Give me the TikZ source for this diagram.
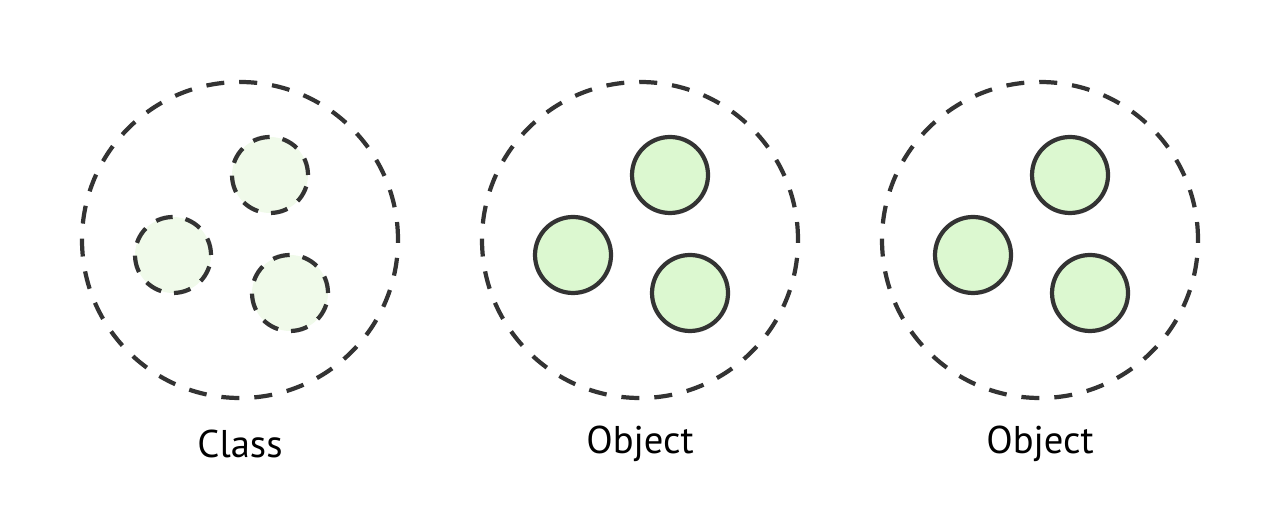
\documentclass[tikz,border=0pt]{standalone}
\usepackage{fontspec}
\setmainfont{PT Sans}
\definecolor{edgegray}{HTML}{333333}
\definecolor{fieldgreen}{HTML}{DCF8D0}
\definecolor{palegreen}{HTML}{F0FAEA}
\begin{document}
\begin{tikzpicture}[line width=1.2pt,
                    draw=edgegray,
                    font=\fontsize{11pt}{13pt}\selectfont]
    \tikzstyle{container}=[circle,draw=edgegray,dash pattern=on 0.18cm off 0.15cm,minimum size=3.16cm,inner sep=0pt]
    \tikzstyle{member}=[circle,draw=edgegray,fill=fieldgreen,minimum size=0.76cm,inner sep=0pt]
    \tikzstyle{template}=[member, fill=palegreen, dash pattern=on 0.17cm off 0.13cm];
    \tikzstyle{caption}=[inner sep=0pt,text=black];

    \useasboundingbox (0,0) rectangle (12.8,5.2);

    % class
    \node[container] (class) at (2.4,2.8) {};
    \node[template] (class a) at (2.7,3.45) {};
    \node[template] (class b) at (1.73,2.65) {};
    \node[template] (class c) at (2.9,2.27) {};
    \node[caption] (class label) at (2.4,0.76) {Class};

    % first object
    \node[container] (obj1) at (6.4,2.8) {};
    \node[member] (obj1 a) at (6.7,3.45) {};
    \node[member] (obj1 b) at (5.73,2.65) {};
    \node[member] (obj1 c) at (6.9,2.27) {};
    \node[caption] (obj1 label) at (6.4,0.76) {Object};

    % second object
    \node[container] (obj2) at (10.4,2.8) {};
    \node[member] (obj2 a) at (10.7,3.45) {};
    \node[member] (obj2 b) at (9.73,2.65) {};
    \node[member] (obj2 c) at (10.9,2.27) {};
    \node[caption] (obj2 label) at (10.4,0.76) {Object};
\end{tikzpicture}
\end{document}
